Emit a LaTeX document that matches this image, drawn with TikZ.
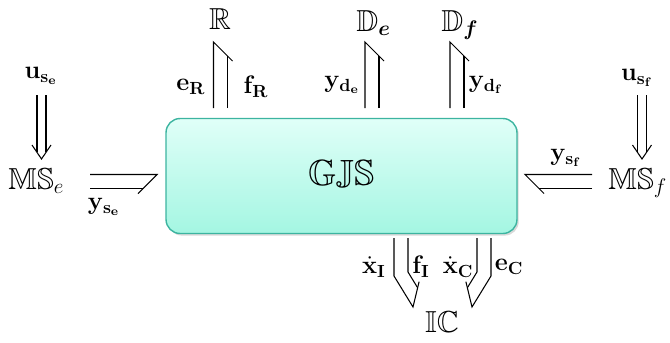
\documentclass[tikz,border=0pt]{standalone}
\usepackage{amsmath,amssymb}
\usepackage{xcolor}
\usepackage{tikz}
\usetikzlibrary{calc,shadows}
\definecolor{cTeal}{HTML}{3CB4A0}
\definecolor{cMintTop}{HTML}{E0FFF8}
\definecolor{cMintBot}{HTML}{A4F6E2}
\tikzset{
  sysbox/.style={draw=cTeal,line width=0.8pt,rounded corners=8pt,top color=cMintTop,bottom color=cMintBot,
    minimum width=7.02cm,minimum height=2.3cm,font=\huge,
    drop shadow={opacity=0.3,shadow xshift=1pt,shadow yshift=-1.2pt}},
  port/.style={font=\LARGE,inner sep=0pt},
  lbl/.style={font=\Large,inner sep=0pt},
  bond/.style={line width=0.6pt},
  % half-arrow bond drawn upwards: long line left / right
  pics/bondl/.style={code={
    \draw[bond] (-7,0) -- (-7,-#1) -- ++(19,19);
    \draw[bond] (7,0) -- (7,{-#1+14});}},
  pics/bondr/.style={code={
    \draw[bond] (7,0) -- (7,-#1) -- ++(-19,19);
    \draw[bond] (-7,0) -- (-7,{-#1+14});}},
  % bond going down, then bending down-right
  pics/bentbond/.style={code={
    \draw[bond] (-7,0) -- (-7,38) -- (12,69) -- (18.1,43.7);
    \draw[bond] (7,0) -- (7,34) -- (16.6,49.7);}},
  % double-line signal arrow, pointing down
  pics/dblarrow/.style={code={
    \draw[bond] (-4.5,0) -- (-4.5,{#1-7.4}) (4.5,0) -- (4.5,{#1-7.4});
    \draw[bond] (-9.5,{#1-14}) -- (0,#1) -- (9.5,{#1-14});}},
}
\begin{document}
\begin{tikzpicture}[x=0.02cm,y=-0.02cm]
  \useasboundingbox (0,0) rectangle (670,342);
  \node[sysbox] (gjs) at (341.5,176) {$\mathbb{GJS}$};
  % ports
  \node[port,anchor=base] (R) at (220,29) {$\mathbb{R}$};
  \node[port,anchor=base west] (De) at (356,31) {$\mathbb{D}_{\boldsymbol{e}}$};
  \node[port,anchor=base west] (Df) at (441,31) {$\mathbb{D}_{\boldsymbol{f}}$};
  \node[port,anchor=base west] (MSe) at (8,189) {$\mathbb{MS}_e$};
  \node[port,anchor=base west] (MSf) at (608,189) {$\mathbb{MS}_f$};
  \node[port,anchor=base] (IC) at (442,332) {$\mathbb{IC}$};
  % bond labels
  \node[lbl] (eR) at (191,87) {$\mathbf{e}_{\mathbf{R}}$};
  \node[lbl] (fR) at (256,87) {$\mathbf{f}_{\mathbf{R}}$};
  \node[lbl] (yde) at (342,85) {$\mathbf{y}_{\mathbf{d}_{\mathbf{e}}}$};
  \node[lbl] (ydf) at (486,85) {$\mathbf{y}_{\mathbf{d}_{\mathbf{f}}}$};
  \node[lbl] (use) at (41,76) {$\mathbf{u}_{\mathbf{s}_{\mathbf{e}}}$};
  \node[lbl] (usf) at (637,78) {$\mathbf{u}_{\mathbf{s}_{\mathbf{f}}}$};
  \node[lbl] (yse) at (104,207) {$\mathbf{y}_{\mathbf{s}_{\mathbf{e}}}$};
  \node[lbl] (ysf) at (566,158) {$\mathbf{y}_{\mathbf{s}_{\mathbf{f}}}$};
  \node[lbl] (xI) at (374,267) {$\dot{\mathbf{x}}_{\mathbf{I}}$};
  \node[lbl] (fI) at (421,267) {$\mathbf{f}_{\mathbf{I}}$};
  \node[lbl] (xC) at (458,267) {$\dot{\mathbf{x}}_{\mathbf{C}}$};
  \node[lbl] (eC) at (509,267) {$\mathbf{e}_{\mathbf{C}}$};
  % bonds
  \pic at (220.5,108) {bondl=66};
  \pic at (372,108) {bondl=66};
  \pic at (457,108) {bondl=66};
  \pic[rotate=-90] at (90,181.5) {bondl=67};
  \pic[rotate=90] at (592,181.5) {bondr=67};
  \pic at (401,238) {bentbond};
  \pic[xscale=-1] at (484,238) {bentbond};
  % inputs
  \pic at (41.5,95) {dblarrow=64};
  \pic at (642,95) {dblarrow=64};
\end{tikzpicture}
\end{document}
